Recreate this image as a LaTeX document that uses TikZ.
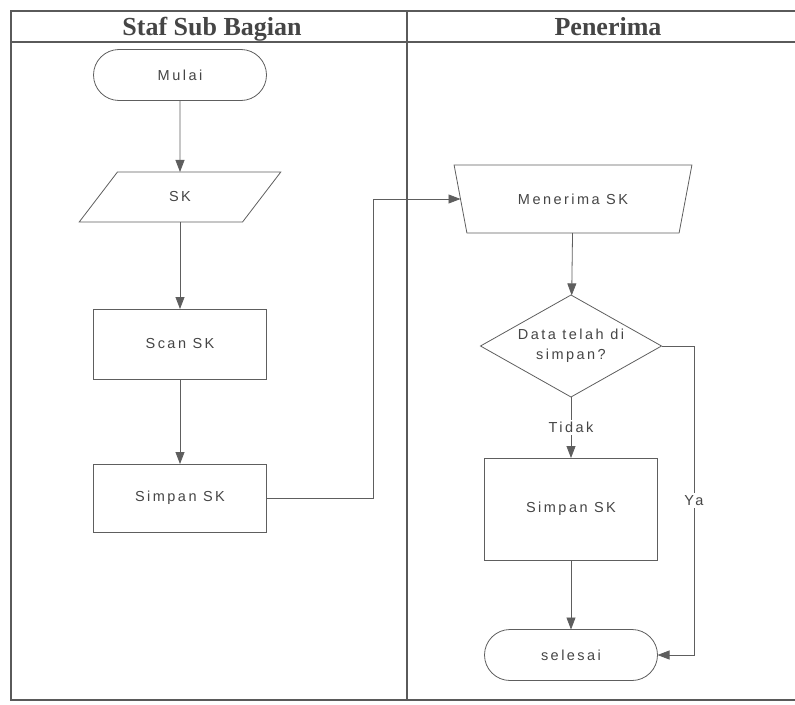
\documentclass[tikz,border=0pt]{standalone}
\usepackage{fontspec}
\setmainfont{Liberation Sans}
\newfontfamily\headfont{Liberation Serif}
\newfontfamily\flowfont[LetterSpace=17]{Liberation Sans}
\usetikzlibrary{shapes.geometric,shapes.misc,arrows.meta}
\definecolor{ink}{HTML}{454545}
\definecolor{edge}{HTML}{5E5E5E}
\definecolor{frame}{HTML}{5A5A5A}
\begin{document}
\begin{tikzpicture}[x=1pt,y=-1pt,
  shapeline/.style={draw=edge, line width=0.8pt, text=ink, inner sep=0pt, outer sep=0pt,
    font=\flowfont\fontsize{14.5}{20}\selectfont},
  terminal/.style={shapeline, rounded rectangle, minimum width=173pt, minimum height=51pt},
  process/.style={shapeline, rectangle, minimum width=173pt},
  datain/.style={shapeline, trapezium, trapezium left angle=57, trapezium right angle=123,
    trapezium stretches=true, minimum width=202pt, minimum height=50pt},
  manualop/.style={shapeline, trapezium, trapezium left angle=58, trapezium right angle=58,
    shape border rotate=180, trapezium stretches=true, minimum width=238pt, minimum height=68pt},
  decision/.style={shapeline, diamond, shape aspect=1.77, minimum width=181pt, minimum height=102pt, align=center},
  flow/.style={draw=edge, line width=0.8pt, -{Triangle[length=12pt,width=9pt]}},
  edgelabel/.style={fill=white, text=ink, inner sep=2pt, font=\flowfont\fontsize{14.5}{17}\selectfont},
  lanehead/.style={text=ink, anchor=base, font=\headfont\bfseries\fontsize{26}{30}\selectfont}
]
\useasboundingbox (0,0) rectangle (795,704);

% swimlane frame
\draw[frame, line width=1.1pt] (795,11) -- (11,11) -- (11,700) -- (795,700);
\draw[frame, line width=1.1pt] (11,42) -- (795,42);
\draw[frame, line width=1.1pt] (407,11) -- (407,700);
\node[lanehead] (laneA) at (212,35) {Staf Sub Bagian};
\node[lanehead] (laneB) at (608,35) {Penerima};

% Staf Sub Bagian lane
\node[terminal] (mulai) at (180,75) {Mulai};
\node[datain] (sk) at (180,197) {SK};
\node[process, minimum height=70pt] (scan) at (180,344) {Scan SK};
\node[process, minimum height=68pt] (simpanA) at (180,498) {Simpan SK};

% Penerima lane
\node[manualop] (terima) at (573,199) {Menerima SK};
\node[decision] (cek) at (571,346) {Data telah di\\simpan?};
\node[process, minimum height=102pt] (simpanB) at (571,509) {Simpan SK};
\node[terminal] (selesai) at (571,655) {selesai};

\coordinate (jA) at (373,0);
\coordinate (jB) at (694,0);

% connectors
\draw[flow] (mulai) -- (sk);
\draw[flow] (sk) -- (scan);
\draw[flow] (scan) -- (simpanA);
\draw[flow] (simpanA.east) -- (simpanA.east -| jA) -- (jA |- terima.west) -- (terima.west);
\draw[flow] (terima) -- (cek);
\draw[flow] (cek.south) -- node[edgelabel] (tidak) {Tidak} (simpanB.north);
\draw[flow] (simpanB) -- (selesai);
\draw[flow] (cek.east) -- (cek.east -| jB) -- node[edgelabel] (ya) {Ya} (jB |- selesai.east) -- (selesai.east);
\end{tikzpicture}
\end{document}
